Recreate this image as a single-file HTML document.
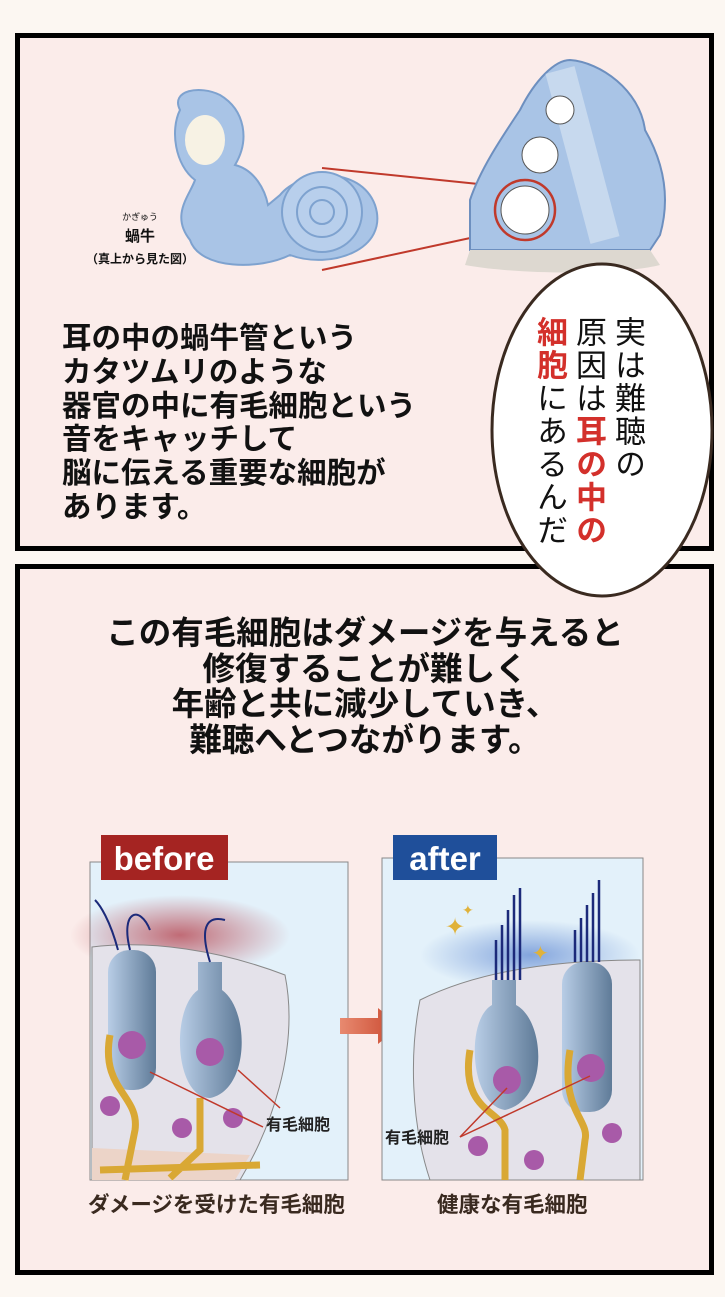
<!DOCTYPE html>
<html><head><meta charset="utf-8"><style>
body{margin:0;background:#fcf7f2;width:725px;height:1297px;position:relative;overflow:hidden;font-family:"Liberation Sans","Noto Sans CJK JP",sans-serif;color:#111}
.p{position:absolute;background:#fbecea;border:5px solid #000;box-sizing:border-box}
.t{position:absolute;font-size:29.5px;line-height:33.8px;font-weight:bold;white-space:nowrap}
.c{position:absolute;left:0;width:730px;text-align:center;font-size:32.5px;line-height:35.5px;font-weight:bold;white-space:nowrap}
.col{position:absolute;writing-mode:vertical-rl;font-size:31px;line-height:34px;letter-spacing:2px;font-weight:normal}
.r{color:#d3302b;font-weight:bold}
.cap{position:absolute;font-size:21.5px;font-weight:bold;color:#3a2a20;white-space:nowrap}
</style></head><body>
<div class="p" style="left:15px;top:33px;width:699px;height:518px"></div>
<div class="p" style="left:15px;top:564px;width:699px;height:711px"></div>

<svg style="position:absolute;left:0;top:0" width="725" height="1297">
 <path d="M180 110 C170 90 200 85 220 95 C245 110 250 140 235 165 C255 170 265 190 268 205 L280 195 C300 170 360 165 375 205 C390 250 330 270 290 255 C260 270 200 270 190 240 C170 215 190 195 195 180 C175 165 170 130 180 110Z" fill="#a9c4e6" stroke="#7ea2cf" stroke-width="2"/>
 <ellipse cx="205" cy="140" rx="20" ry="25" fill="#f7f2e4"/>
 <circle cx="322" cy="212" r="40" fill="#b8cfec" stroke="#7ea2cf" stroke-width="2"/>
 <circle cx="322" cy="212" r="25" fill="none" stroke="#7ea2cf" stroke-width="2"/>
 <circle cx="322" cy="212" r="12" fill="none" stroke="#7ea2cf" stroke-width="2"/>
 <line x1="322" y1="168" x2="498" y2="186" stroke="#c0392b" stroke-width="2"/>
 <line x1="322" y1="270" x2="498" y2="232" stroke="#c0392b" stroke-width="2"/>
 <path d="M470 250 L470 200 C480 170 500 140 520 110 C535 80 555 60 570 60 C600 62 640 90 645 130 C665 165 670 200 660 235 L650 250Z" fill="#a9c4e6" stroke="#6d8fbf" stroke-width="2"/>
 <path d="M470 250 L650 250 L660 265 C620 275 520 275 465 265Z" fill="#ddd8d0"/>
 <path d="M560 70 L605 240" stroke="#d5e2f2" stroke-width="30" opacity=".7"/>
 <circle cx="560" cy="110" r="14" fill="#fff" stroke="#555"/>
 <circle cx="540" cy="155" r="18" fill="#fff" stroke="#555"/>
 <circle cx="525" cy="210" r="24" fill="#fff" stroke="#555"/>
 <circle cx="525" cy="210" r="30" fill="none" stroke="#c0392b" stroke-width="2.5"/>
 <ellipse cx="602" cy="430" rx="110" ry="166" fill="#fff" stroke="#3a2a20" stroke-width="3"/>
 <defs>
  <radialGradient id="rd" cx=".5" cy=".5" r=".5"><stop offset="0" stop-color="#b84a55" stop-opacity=".8"/><stop offset="1" stop-color="#b84a55" stop-opacity="0"/></radialGradient>
  <radialGradient id="bl" cx=".5" cy=".5" r=".5"><stop offset="0" stop-color="#5a84d0" stop-opacity=".7"/><stop offset="1" stop-color="#5a84d0" stop-opacity="0"/></radialGradient>
  <linearGradient id="cell" x1="0" x2="1"><stop offset="0" stop-color="#b8cde6"/><stop offset="1" stop-color="#5f7b98"/></linearGradient>
  <linearGradient id="ar" x1="0" x2="1"><stop offset="0" stop-color="#e88a70"/><stop offset="1" stop-color="#c8452c"/></linearGradient>
 </defs>
 <rect x="90" y="862" width="258" height="318" fill="#e3f1fa" stroke="#888"/>
 <ellipse cx="180" cy="935" rx="110" ry="40" fill="url(#rd)"/>
 <path d="M92 947 C150 940 220 950 285 975 C300 1050 270 1130 240 1180 L92 1180Z" fill="#e4e2ea" stroke="#888"/>
 <path d="M92 1148 L250 1155 L235 1180 L92 1180Z" fill="#ecd4c8"/>
 <rect x="108" y="950" width="48" height="140" rx="22" fill="url(#cell)"/>
 <path d="M198 962 L222 962 L222 990 C250 1010 250 1090 210 1098 C175 1098 170 1010 198 990Z" fill="url(#cell)"/>
 <path d="M110 1035 C100 1090 140 1095 135 1130 L125 1180 M200 1098 L200 1150 L170 1178 M100 1170 L260 1165" stroke="#d9a834" stroke-width="7" fill="none"/>
 <circle cx="132" cy="1045" r="14" fill="#a85aa8"/><circle cx="210" cy="1052" r="14" fill="#a85aa8"/>
 <circle cx="110" cy="1106" r="10" fill="#a85aa8"/><circle cx="182" cy="1128" r="10" fill="#a85aa8"/><circle cx="233" cy="1118" r="10" fill="#a85aa8"/>
 <path d="M118 950 C110 920 100 905 95 900 M130 950 C120 910 140 905 150 930 M210 962 C200 930 205 915 225 920" stroke="#1c2a7a" stroke-width="2" fill="none"/>
 <line x1="150" y1="1072" x2="263" y2="1127" stroke="#c0392b" stroke-width="1.5"/>
 <line x1="238" y1="1070" x2="280" y2="1108" stroke="#c0392b" stroke-width="1.5"/>
 <text x="266" y="1130" font-size="16" font-weight="bold" font-family="Liberation Sans,Noto Sans CJK JP,sans-serif" fill="#222">有毛細胞</text>
 <rect x="101" y="835" width="127" height="45" fill="#a52422"/>
 <text x="164" y="870" font-size="33" font-weight="bold" fill="#fff" text-anchor="middle" font-family="Liberation Sans,sans-serif">before</text>
 <path d="M340 1018 L378 1018 L378 1008 L400 1026 L378 1044 L378 1034 L340 1034Z" fill="url(#ar)"/>
 <rect x="382" y="858" width="261" height="322" fill="#e3f1fa" stroke="#888"/>
 <ellipse cx="530" cy="955" rx="110" ry="35" fill="url(#bl)"/>
 <path d="M420 1000 C480 970 560 960 640 960 L640 1180 L430 1180 C410 1120 410 1050 420 1000Z" fill="#e4e2ea" stroke="#888"/>
 <path d="M492 980 L516 980 L516 1005 C545 1020 550 1100 505 1110 C470 1105 465 1020 492 1005Z" fill="url(#cell)"/>
 <rect x="562" y="962" width="50" height="150" rx="22" fill="url(#cell)"/>
 <path d="M470 1050 C460 1110 500 1110 505 1130 L505 1180 M570 1050 C560 1110 590 1120 585 1140 L580 1180" stroke="#d9a834" stroke-width="7" fill="none"/>
 <circle cx="507" cy="1080" r="14" fill="#a85aa8"/><circle cx="591" cy="1068" r="14" fill="#a85aa8"/>
 <circle cx="478" cy="1146" r="10" fill="#a85aa8"/><circle cx="534" cy="1160" r="10" fill="#a85aa8"/><circle cx="612" cy="1133" r="10" fill="#a85aa8"/>
 <path d="M496 980 V940 M502 980 V925 M508 980 V910 M514 980 V895 M520 980 V888 M575 962 V930 M581 962 V918 M587 962 V905 M593 962 V893 M599 962 V880" stroke="#1c2a7a" stroke-width="2.5"/>
 <text x="445" y="935" font-size="24" fill="#e0b23a">✦</text><text x="532" y="960" font-size="20" fill="#e0b23a">✦</text><text x="462" y="915" font-size="14" fill="#e0b23a">✦</text>
 <line x1="460" y1="1137" x2="507" y2="1088" stroke="#c0392b" stroke-width="1.5"/>
 <line x1="460" y1="1137" x2="590" y2="1076" stroke="#c0392b" stroke-width="1.5"/>
 <text x="385" y="1143" font-size="16" font-weight="bold" font-family="Liberation Sans,Noto Sans CJK JP,sans-serif" fill="#222">有毛細胞</text>
 <rect x="393" y="835" width="104" height="45" fill="#1f4f9a"/>
 <text x="445" y="870" font-size="33" font-weight="bold" fill="#fff" text-anchor="middle" font-family="Liberation Sans,sans-serif">after</text>
</svg>

<div style="position:absolute;left:80px;top:210px;width:120px;text-align:center;font-size:9px">かぎゅう</div>
<div style="position:absolute;left:80px;top:225px;width:120px;text-align:center;font-size:15px;font-weight:bold">蝸牛</div>
<div style="position:absolute;left:40px;top:250px;width:200px;text-align:center;font-size:12px;font-weight:bold">（真上から見た図）</div>

<div class="t" style="left:62px;top:322px">耳の中の蝸牛管という<br>カタツムリのような<br>器官の中に有毛細胞という<br>音をキャッチして<br>脳に伝える重要な細胞が<br>あります。</div>

<div class="col" style="left:610px;top:316px">実は難聴の</div>
<div class="col" style="left:571px;top:316px">原因は<span class="r">耳の中の</span></div>
<div class="col" style="left:532px;top:316px"><span class="r">細胞</span>にあるんだ</div>

<div class="c" style="top:616px">この有毛細胞はダメージを与えると<br>修復することが難しく<br>年齢と共に減少していき、<br>難聴へとつながります。</div>

<div class="cap" style="left:88px;top:1188px">ダメージを受けた有毛細胞</div>
<div class="cap" style="left:437px;top:1188px">健康な有毛細胞</div>
</body></html>
